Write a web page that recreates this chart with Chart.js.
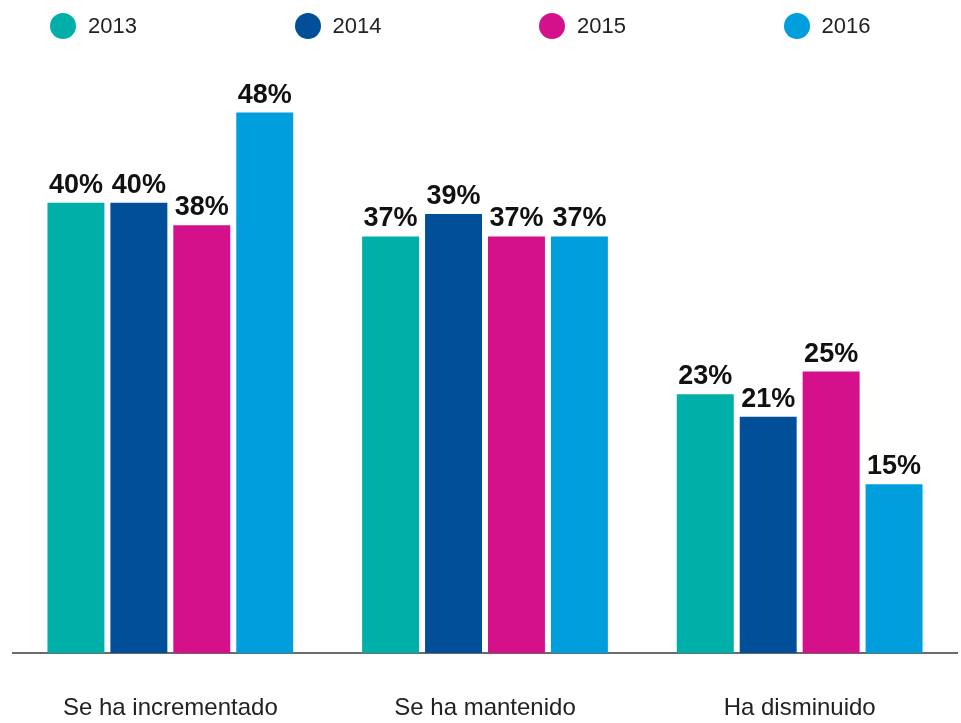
<!DOCTYPE html>
<html>
<head>
<meta charset="utf-8">
<script src="https://cdn.jsdelivr.net/npm/chart.js@4"></script>
<style>
	body { margin: 0; background: #fff; font-family: "Liberation Sans", Arial, sans-serif; }
	#wrap { width: 961px; height: 723px; position: relative; }
	#legend { position: absolute; left: 50px; top: 12px; display: flex; }
	.item { width: 244.5px; display: flex; align-items: center; font-size: 22px; color: #222; height: 28px; }
	.dot { width: 26px; height: 26px; border-radius: 50%; margin-right: 12px; }
	#chartBox { position: absolute; left: 0; top: 0; width: 961px; height: 723px; }
</style>
</head>
<body>
<div id="wrap">
	<div id="chartBox"><canvas id="bars"></canvas></div>
	<div id="legend"></div>
</div>
<script>
var categories = ["Se ha incrementado", "Se ha mantenido", "Ha disminuido"];
var years = ["2013", "2014", "2015", "2016"];
var values2013 = [40, 37, 23];
var values2014 = [40, 39, 21];
var values2015 = [38, 37, 25];
var values2016 = [48, 37, 15];
var colors = ["#00AFA7", "#004F98", "#D4118B", "#009EDC"];

var allValues = [values2013, values2014, values2015, values2016];

// html legend, evenly spaced like the original
var legendEl = document.getElementById("legend");
years.forEach(function (y, i) {
	var item = document.createElement("div");
	item.className = "item";
	item.innerHTML = '<span class="dot" style="background:' + colors[i] + '"></span>' + y;
	legendEl.appendChild(item);
});

var valueLabels = {
	id: "valueLabels",
	afterDatasetsDraw: function (chart) {
		var ctx = chart.ctx;
		ctx.save();
		ctx.font = "bold 27px 'Liberation Sans', Arial, sans-serif";
		ctx.fillStyle = "#111";
		ctx.textAlign = "center";
		ctx.textBaseline = "alphabetic";
		chart.data.datasets.forEach(function (ds, i) {
			chart.getDatasetMeta(i).data.forEach(function (bar, j) {
				ctx.fillText(ds.data[j] + "%", bar.x, bar.y - 10);
			});
		});
		ctx.restore();
	}
};

new Chart("bars", {
	type: "bar",
	data: {
		labels: categories,
		datasets: years.map(function (y, i) {
			return {
				label: y,
				data: allValues[i],
				backgroundColor: colors[i],
				categoryPercentage: 0.8,
				barPercentage: 0.905
			};
		})
	},
	options: {
		responsive: true,
		maintainAspectRatio: false,
		animation: false,
		layout: { padding: { top: 90, left: 13, right: 4, bottom: 0 } },
		plugins: {
			legend: { display: false },
			tooltip: { enabled: false }
		},
		scales: {
			x: {
				// grid hidden, tickLength only used as spacing above labels
				grid: { display: false, drawTicks: true, tickLength: 41 },
				border: { display: true, color: "#6b6b6b", width: 2 },
				ticks: {
					padding: 0,
					color: "#222",
					font: { family: "'Liberation Sans', Arial, sans-serif", size: 24 }
				}
			},
			y: {
				display: false,
				min: 0,
				max: 50
			}
		}
	},
	plugins: [valueLabels]
});
</script>
</body>
</html>
